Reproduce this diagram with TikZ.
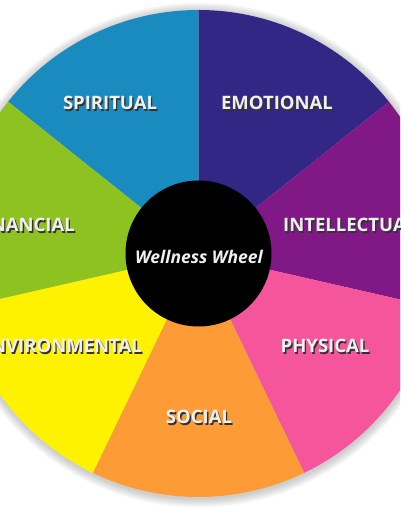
\documentclass[tikz,border=0pt]{standalone}
\usepackage{fontspec}
\setsansfont{Open Sans}
\usetikzlibrary{calc}
\usepackage{xcolor}
\definecolor{wspirit}{HTML}{1A8BBE}
\definecolor{wemotion}{HTML}{332785}
\definecolor{wintellect}{HTML}{801886}
\definecolor{wphysical}{HTML}{F5569B}
\definecolor{wsocial}{HTML}{FD9C36}
\definecolor{wenviron}{HTML}{FFF200}
\definecolor{wfinance}{HTML}{8DC220}
\tikzset{
	seg label/.style={font=\sffamily\bfseries\fontsize{18.5}{18.5}\selectfont, text=white!94!black, inner sep=0pt},
	seg shadow/.style={seg label, text=black!80},
}
\newcommand{\segname}[4]{%
	\node[seg shadow, anchor=#2] (#1-s) at ($(#3)+(1.4,-1.4)$) {#4};
	\node[seg label, anchor=#2] (#1) at (#3) {#4};
}

\begin{document}
\begin{tikzpicture}[x=1pt, y=1pt]
		\useasboundingbox (0,0) rectangle (400,516);
		\clip (0,0) rectangle (400,516);
		\def\R{243.5}
		\def\r{73}
		\def\w{51.4286}
		\coordinate (hub) at (198.5,262.5);
		% soft shadow round the wheel
		\foreach \k in {1,...,9}{
			\fill[black, opacity=0.025] ($(hub)+(0.5,-1.5)$) circle ({\R+\k});
		}
		\foreach \col [count=\i from 0] in {wspirit, wemotion, wintellect, wphysical, wsocial, wenviron, wfinance}{
			\fill[\col] (hub) -- ++({141.4286-\i*\w}:\R) arc[start angle={141.4286-\i*\w}, end angle={90-\i*\w}, radius=\R] -- cycle;
		}
		\fill[black] (hub) circle (\r);
		\segname{spiritual}{center}{110,413}{SPIRITUAL}
		\segname{emotional}{center}{277,413}{EMOTIONAL}
		\segname{intellectual}{west}{283,291}{INTELLECTUAL}
		\segname{physical}{center}{325,170}{PHYSICAL}
		\segname{social}{center}{199,99}{SOCIAL}
		\segname{environmental}{east}{142,170}{ENVIRONMENTAL}
		\segname{financial}{east}{75,291}{FINANCIAL}
		\node[font=\sffamily\bfseries\itshape\fontsize{17.5}{17.5}\selectfont, text=white!94!black, inner sep=0pt] (title) at (199,259) {Wellness Wheel};
	\end{tikzpicture}
\end{document}
